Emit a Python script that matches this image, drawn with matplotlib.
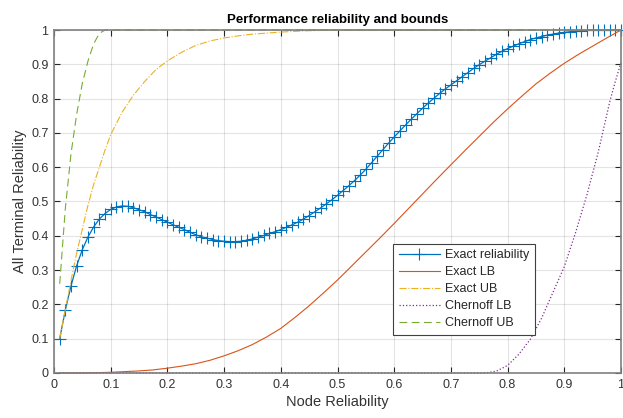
import matplotlib
matplotlib.use("Agg")
from matplotlib import pyplot as plt
from matplotlib.ticker import FormatStrFormatter, MultipleLocator

# node reliability grid for the exact curve
p = [round(0.01 * i, 2) for i in range(1, 101)]

exact_rel = [0.100, 0.184, 0.254, 0.313, 0.360, 0.397, 0.426, 0.449, 0.465, 0.477,
             0.484, 0.487, 0.486, 0.482, 0.476, 0.470, 0.462, 0.455, 0.447, 0.440,
             0.432, 0.425, 0.418, 0.410, 0.403, 0.397, 0.393, 0.389, 0.386, 0.384,
             0.383, 0.383, 0.384, 0.387, 0.391, 0.396, 0.401, 0.407, 0.412, 0.418,
             0.425, 0.432, 0.440, 0.449, 0.459, 0.470, 0.481, 0.493, 0.505, 0.518,
             0.532, 0.546, 0.561, 0.577, 0.594, 0.613, 0.632, 0.651, 0.670, 0.688,
             0.706, 0.723, 0.740, 0.756, 0.772, 0.787, 0.801, 0.815, 0.828, 0.840,
             0.852, 0.864, 0.876, 0.888, 0.899, 0.909, 0.919, 0.929, 0.938, 0.946,
             0.953, 0.960, 0.966, 0.972, 0.977, 0.981, 0.985, 0.988, 0.991, 0.993,
             0.995, 0.997, 0.998, 0.999, 1.000, 1.000, 1.000, 1.000, 1.000, 1.000]

lb_p = [0.01, 0.05, 0.075, 0.1, 0.125, 0.15, 0.175, 0.2, 0.225, 0.25, 0.275, 0.3,
        0.325, 0.35, 0.375, 0.4, 0.425, 0.45, 0.475, 0.5, 0.525, 0.55, 0.575, 0.6,
        0.625, 0.65, 0.675, 0.7, 0.725, 0.75, 0.775, 0.8, 0.825, 0.85, 0.875, 0.9,
        0.925, 0.95, 0.975, 1.0]
exact_lb = [0.0, 0.0, 0.001, 0.002, 0.004, 0.006, 0.009, 0.014, 0.020, 0.027, 0.037, 0.050,
            0.065, 0.083, 0.105, 0.130, 0.162, 0.196, 0.233, 0.271, 0.312, 0.353, 0.394, 0.436,
            0.479, 0.522, 0.565, 0.607, 0.649, 0.690, 0.731, 0.770, 0.807, 0.843, 0.874, 0.903,
            0.929, 0.953, 0.977, 1.000]

ub_p = [0.01, 0.02, 0.03, 0.04, 0.05, 0.06, 0.07, 0.08, 0.09, 0.10, 0.12, 0.14,
        0.16, 0.18, 0.20, 0.225, 0.25, 0.275, 0.30, 0.325, 0.35, 0.375, 0.40, 0.45,
        0.50, 0.60, 0.80, 1.00]
exact_ub = [0.10, 0.185, 0.27, 0.35, 0.42, 0.49, 0.55, 0.60, 0.65, 0.695, 0.76, 0.81,
            0.85, 0.885, 0.91, 0.935, 0.955, 0.968, 0.977, 0.983, 0.988, 0.991, 0.994, 0.998,
            1.0, 1.0, 1.0, 1.0]

clb_p = [0.01, 0.76, 0.78, 0.80, 0.82, 0.84, 0.86, 0.88, 0.90, 0.92, 0.94,
         0.96, 0.98, 0.99, 1.00]
chernoff_lb = [0.0, 0.0, 0.005, 0.022, 0.055, 0.098, 0.160, 0.235, 0.310, 0.410, 0.520,
               0.645, 0.790, 0.850, 0.905]

cub_p = [0.01, 0.02, 0.03, 0.04, 0.05, 0.06, 0.07, 0.08, 0.09, 1.00]
chernoff_ub = [0.26, 0.48, 0.64, 0.755, 0.845, 0.91, 0.96, 0.99, 1.0, 1.0]

plt.rcParams['font.family'] = ['Liberation Sans', 'DejaVu Sans']

fig = plt.figure(figsize=(6.23, 4.18), dpi=100)
ax = fig.add_axes([0.0867, 0.1077, 0.9101, 0.8205])

ax.plot(p, exact_rel, color='#0072BD', marker='+', markersize=8, mew=0.8, lw=0.9,
        label='Exact reliability', clip_on=False)
ax.plot(lb_p, exact_lb, color='#D95319', lw=0.8, label='Exact LB', clip_on=False)
ax.plot(ub_p, exact_ub, color='#EDB120', lw=0.8, ls='-.', label='Exact UB', clip_on=False)
ax.plot(clb_p, chernoff_lb, color='#7E2F8E', lw=0.9, ls=':', label='Chernoff LB', clip_on=False)
ax.plot(cub_p, chernoff_ub, color='#77AC30', lw=0.8, ls=(0, (7, 4)), label='Chernoff UB', clip_on=False)

ax.set_xlim(0, 1)
ax.set_ylim(0, 1)
ax.xaxis.set_major_locator(MultipleLocator(0.1))
ax.yaxis.set_major_locator(MultipleLocator(0.1))
ax.xaxis.set_major_formatter(FormatStrFormatter('%g'))
ax.yaxis.set_major_formatter(FormatStrFormatter('%g'))
ax.tick_params(direction='in', top=True, right=True, length=4, width=0.8,
               color='#262626', labelsize=9, labelcolor='#333333', pad=4)
for s in ax.spines.values():
    s.set_color('#808080')
    s.set_linewidth(1.2)
ax.grid(True, color='#262626', alpha=0.12, lw=0.8)
ax.set_axisbelow(True)

ax.set_title('Performance reliability and bounds', fontsize=9.5, fontweight='bold', pad=5)
ax.set_xlabel('Node Reliability', fontsize=10.5, color='#333333', labelpad=3)
ax.set_ylabel('All Terminal Reliability', fontsize=10.5, color='#333333', labelpad=3)

leg = ax.legend(loc='lower left', bbox_to_anchor=(0.598, 0.111), fontsize=9,
                fancybox=False, framealpha=1, edgecolor='#404040', handlelength=3.3,
                borderpad=0.45, labelspacing=0.4, handletextpad=0.4, borderaxespad=0)
leg.get_frame().set_linewidth(0.8)
for t in leg.get_texts():
    t.set_color('#262626')

fig.savefig('out.png', dpi=100)
